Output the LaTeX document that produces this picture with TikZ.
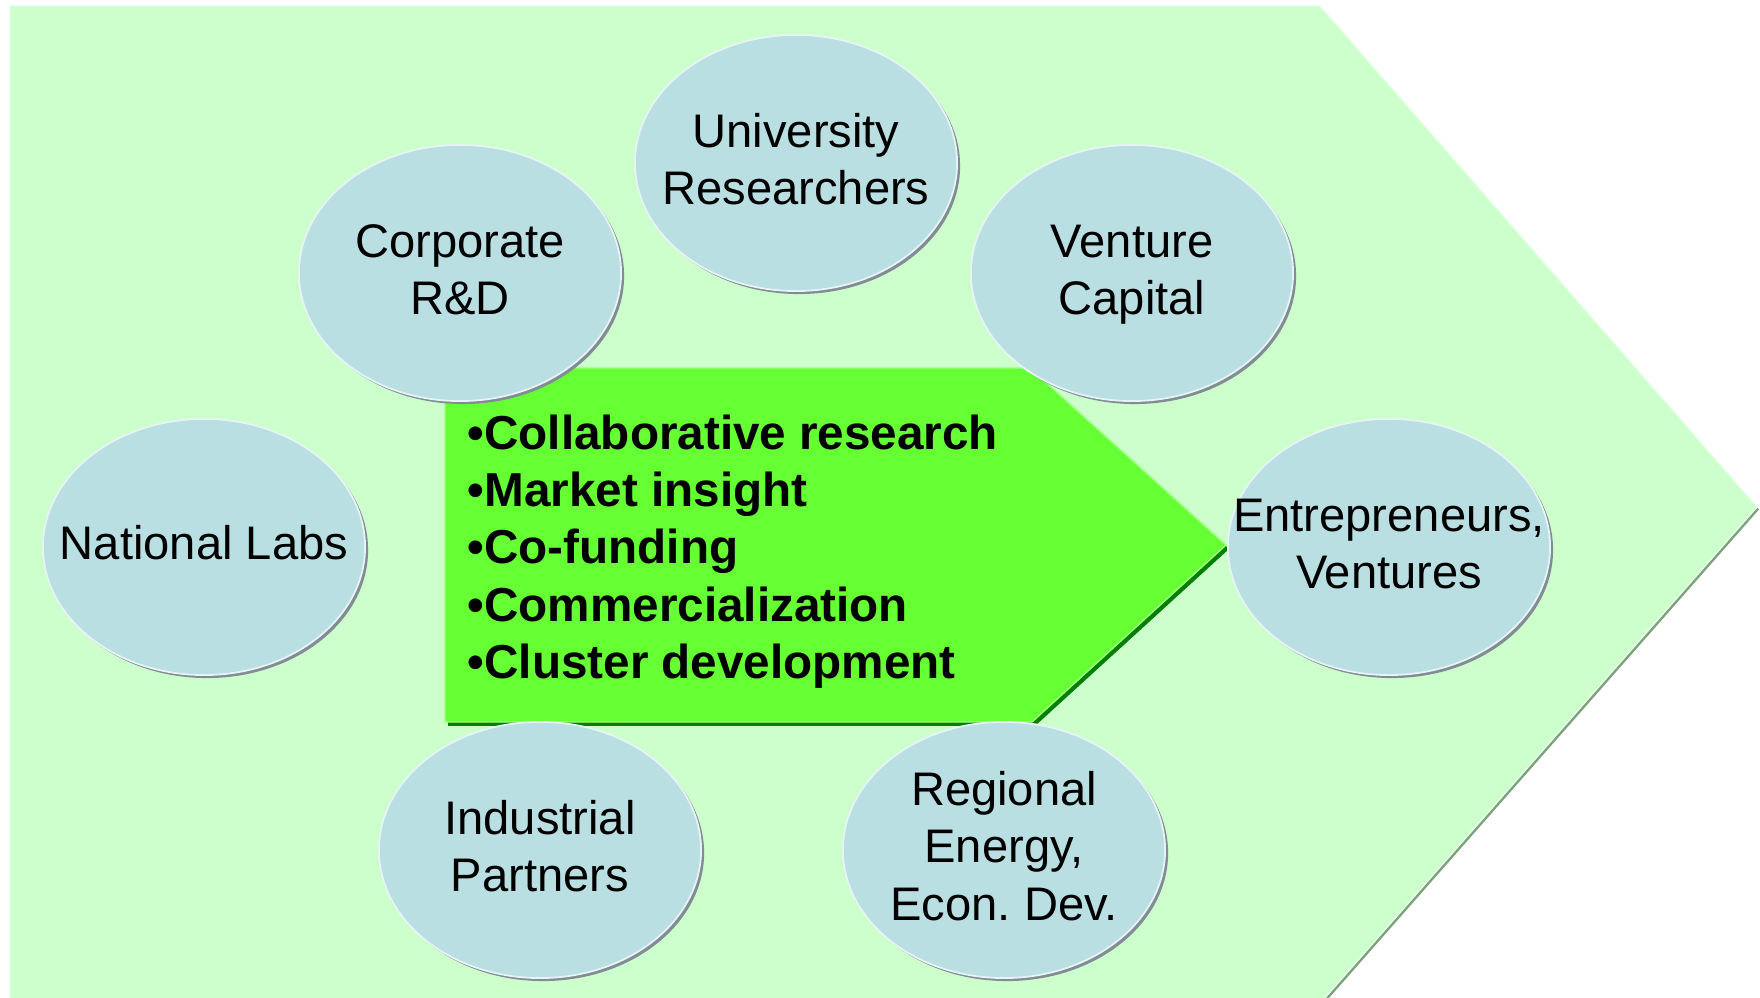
\documentclass[tikz,border=0pt]{standalone}
\usepackage{fontspec}
\setmainfont{Liberation Sans}
\usetikzlibrary{shapes.geometric,shadows}
\frenchspacing

\definecolor{paleGreen}{RGB}{204,255,204}
\definecolor{paleEdge}{RGB}{125,160,125}
\definecolor{limeGreen}{RGB}{102,255,51}
\definecolor{darkGreen}{RGB}{0,128,0}
\definecolor{bubbleBlue}{RGB}{186,223,227}
\definecolor{bubbleShade}{RGB}{130,140,148}

\newcommand{\ovalstrut}{\rule[-2.9pt]{0pt}{13.14pt}}

\tikzset{
  bigarrow/.style={fill=paleGreen, draw=white!50!paleGreen, line width=0.4pt,
    drop shadow={shadow xshift=0.2mm, shadow yshift=-0.25mm, opacity=1, fill=paleEdge, draw=none}},
  innerarrow/.style={fill=limeGreen, draw=white!40!limeGreen, line width=0.4pt,
    drop shadow={shadow xshift=0.3mm, shadow yshift=-0.4mm, opacity=1, fill=darkGreen, draw=none}},
  bubble/.style={ellipse, fill=bubbleBlue, draw=white!65!bubbleBlue, line width=0.5pt,
    minimum width=3.22cm, minimum height=2.56cm, inner sep=0pt,
    drop shadow={shadow xshift=0.3mm, shadow yshift=-0.3mm, opacity=1, fill=bubbleShade, draw=none}},
  bubbletext/.style={align=center, inner sep=0pt, font=\fontsize{13.4}{16.25}\selectfont},
  listtext/.style={align=left, inner sep=0pt, font=\bfseries\fontsize{13.55}{16.3}\selectfont}
}

\begin{document}
\begin{tikzpicture}[x=0.01cm, y=-0.01cm]
    \useasboundingbox (0,0) rectangle (1760,998);

    % draw big arrow
    \filldraw[bigarrow] (10,6) -- (1320,6) -- (1757,507) -- (1316,1008) -- (10,1008) -- cycle;

    % draw inner arrow
    \filldraw[innerarrow] (445,368) -- (1030,368) -- (1226,545) -- (1032,722) -- (445,722) -- cycle;

    % draw list
    \node[listtext, anchor=north west] (perks) at (467,414) {\textbullet Collaborative research\\\textbullet Market insight\\\textbullet Co-funding\\\textbullet Commercialization\\\textbullet Cluster development};

    % draw bubbles
    \node[bubble] (univ) at (796,163) {};
    \node[bubble] (corp) at (460,273) {};
    \node[bubble] (vc) at (1132,273) {};
    \node[bubble] (labs) at (204,547) {};
    \node[bubble] (entre) at (1389,547) {};
    \node[bubble] (ind) at (540,850) {};
    \node[bubble] (reg) at (1004,850) {};

    % draw bubble texts
    \node[bubbletext] (univ-t) at (univ) {\ovalstrut University\\Researchers\ovalstrut};
    \node[bubbletext] (corp-t) at (corp) {\ovalstrut Corporate\\R\&D\ovalstrut};
    \node[bubbletext] (vc-t) at (vc) {\ovalstrut Venture\\Capital\ovalstrut};
    \node[bubbletext] (labs-t) at (labs) {\ovalstrut National Labs\ovalstrut};
    \node[bubbletext] (entre-t) at (entre) {\ovalstrut Entrepreneurs,\\Ventures\ovalstrut};
    \node[bubbletext] (ind-t) at (ind) {\ovalstrut Industrial\\Partners\ovalstrut};
    \node[bubbletext] (reg-t) at (reg) {\ovalstrut Regional\\Energy,\\Econ. Dev.\ovalstrut};

\end{tikzpicture}
\end{document}
